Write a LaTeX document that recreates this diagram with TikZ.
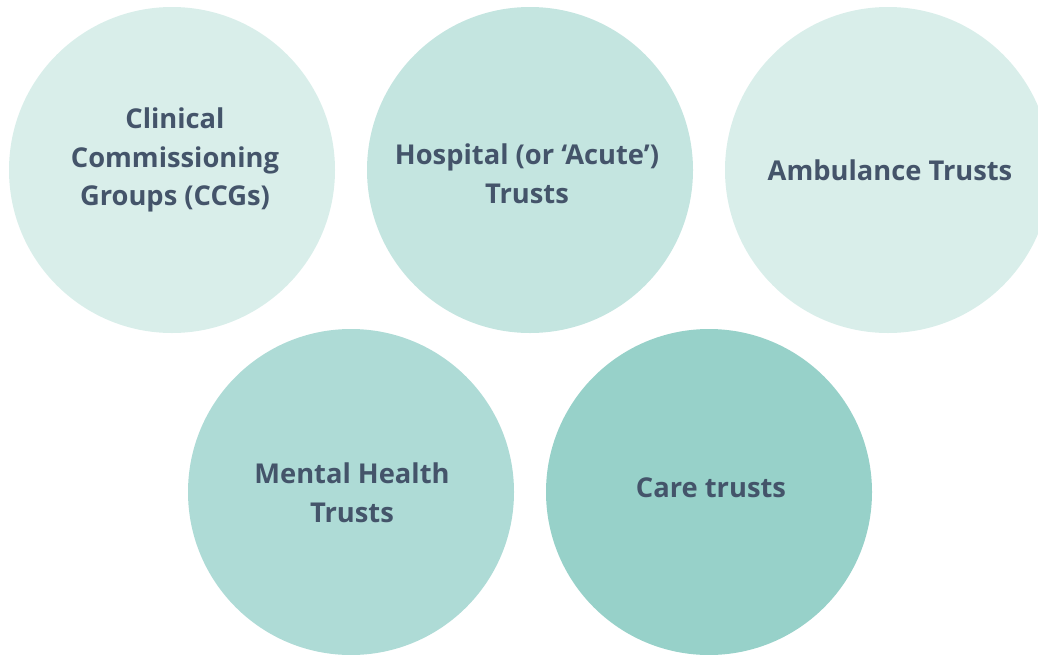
\documentclass[tikz,border=0pt]{standalone}
\usepackage{fontspec}
\setmainfont{Open Sans}[BoldFont={* Bold}]
\definecolor{txt}{HTML}{44546A}
\definecolor{cA}{HTML}{D9EEEA}
\definecolor{cB}{HTML}{C4E5E0}
\definecolor{cC}{HTML}{AEDBD6}
\definecolor{cD}{HTML}{97D1C9}
\begin{document}
\begin{tikzpicture}[x=1pt,y=-1pt,
  disc/.style={circle,inner sep=0pt,minimum size=326pt,draw=none},
  lbl/.style={text=txt,align=center,font=\fontsize{27.3}{38.5}\selectfont\bfseries}]
\useasboundingbox (0,0) rectangle (1038,654);
\begin{scope}
\clip (0,0) rectangle (1038,654);
\node[disc,fill=cA] (c1) at (172,170) {};
\node[disc,fill=cB] (c2) at (530,170) {};
\node[disc,fill=cA] (c3) at (888,170) {};
\node[disc,fill=cC] (c4) at (351,492) {};
\node[disc,fill=cD] (c5) at (709,492) {};
\end{scope}
\node[lbl] (t1) at (175,160) {Clinical\\Commissioning\\Groups (CCGs)};
\node[lbl] (t2) at (527,174) {Hospital (or `Acute')\\Trusts};
\node[lbl] (t3) at (890,170) {Ambulance Trusts};
\node[lbl] (t4) at (352,493) {Mental Health\\Trusts};
\node[lbl] (t5) at (711,488) {Care trusts};
\end{tikzpicture}
\end{document}
